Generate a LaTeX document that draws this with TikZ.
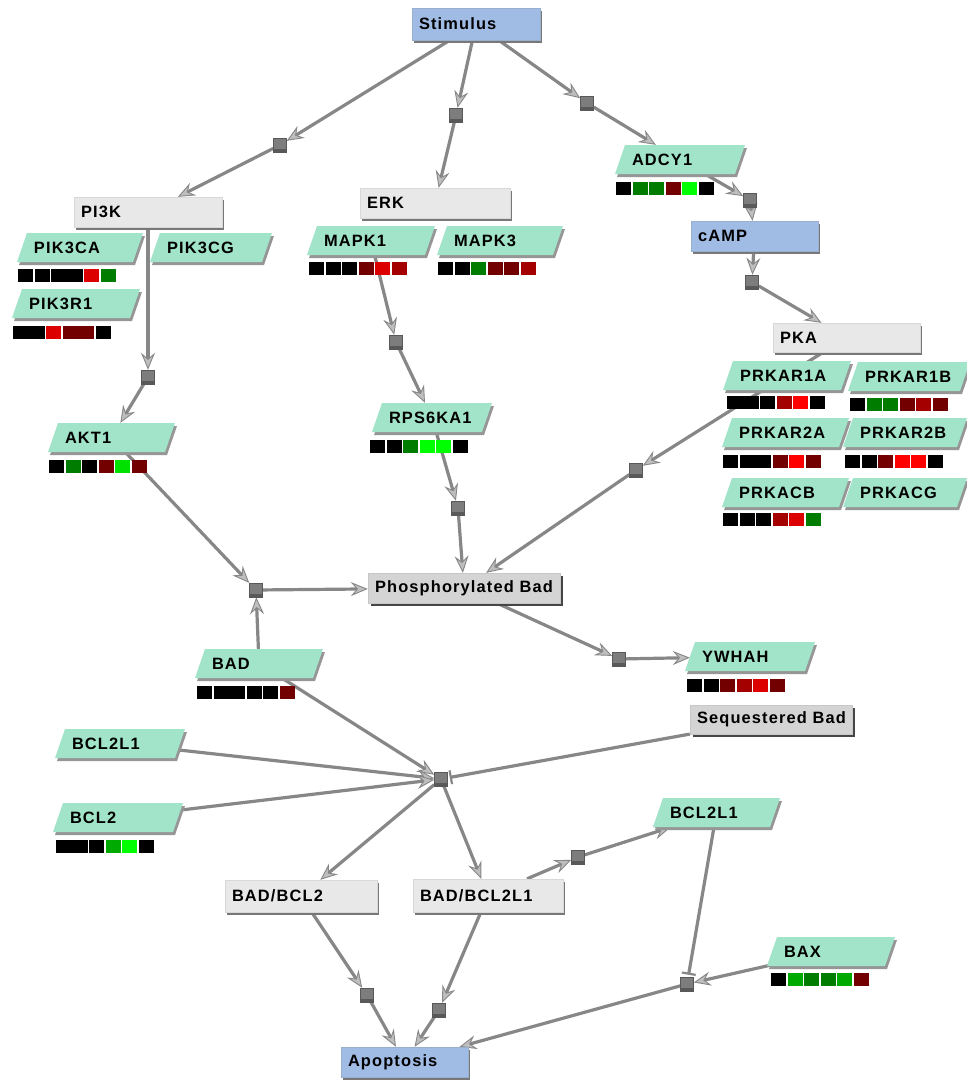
\documentclass[tikz,border=0pt]{standalone}
\usepackage{fontspec}
\setsansfont{Liberation Sans}[LetterSpace=7]
\usetikzlibrary{arrows.meta,shadows}
\definecolor{blueB}{RGB}{160,187,228}
\definecolor{grayB}{RGB}{232,232,232}
\definecolor{grayD}{RGB}{212,212,212}
\definecolor{shB}{RGB}{120,120,120}
\definecolor{shD}{RGB}{70,70,70}
\definecolor{geneG}{RGB}{162,228,202}
\definecolor{geneSh}{RGB}{150,150,150}
\definecolor{lineC}{RGB}{135,135,135}
\definecolor{tipC}{RGB}{190,190,190}
\definecolor{procC}{RGB}{125,125,125}
\definecolor{cK}{RGB}{0,0,0}
\definecolor{cG}{RGB}{0,125,0}
\definecolor{cMG}{RGB}{0,170,0}
\definecolor{cLG}{RGB}{0,225,0}
\definecolor{cBG}{RGB}{0,255,0}
\definecolor{cDR}{RGB}{115,0,0}
\definecolor{cMR}{RGB}{165,0,0}
\definecolor{cR}{RGB}{220,0,0}
\definecolor{cBR}{RGB}{255,0,0}
\pgfdeclarelayer{bg}
\pgfdeclarelayer{edges}
\pgfsetlayers{bg,edges,main}
\tikzset{
  lab/.style={font=\sffamily\bfseries\fontsize{16.4}{18}\selectfont},
  bluebox/.style={lab, fill=blueB, draw=blueB!80!gray, line width=0.4pt, inner xsep=7pt, inner ysep=0pt,
    drop shadow={opacity=1, fill=shB, shadow xshift=2pt, shadow yshift=-3pt}},
  graybox/.style={lab, fill=grayB, draw=grayB!85!gray, line width=0.4pt, inner xsep=7pt, inner ysep=0pt,
    drop shadow={opacity=1, fill=shB, shadow xshift=2pt, shadow yshift=-3pt}},
  darkbox/.style={lab, fill=grayD, draw=grayD!85!gray, line width=0.4pt, inner xsep=7pt, inner ysep=0pt,
    drop shadow={opacity=1, fill=shD, shadow xshift=3pt, shadow yshift=-3pt}},
  genetext/.style={lab, inner xsep=12pt, inner ysep=0pt, minimum height=29pt},
  proc/.style={rectangle, minimum width=13pt, minimum height=14pt, inner sep=0pt, fill=procC, draw=procC!70!black, line width=0.5pt,
    path picture={\fill[black!65] (path picture bounding box.south west) rectangle ([yshift=3.5pt]path picture bounding box.south east);}},
  edge/.style={draw=lineC, line width=3.2pt, -{Stealth[length=17pt,width=14pt,inset=6pt,fill=tipC,line width=0.9pt]}},
  inhib/.style={draw=lineC, line width=3.2pt, -{Bar[width=14pt,line width=2.2pt]}, shorten >=2pt}
}
\newcommand\cbar[3]{\foreach \cc/\ee [count=\ii from 0] in {#3}{\fill[\cc] ({#1+\ii*16.6},#2) rectangle ({#1+\ii*16.6+15+\ee*1.6},{#2+13});}}
\newcommand\rbox[7]{%
  \pgfmathsetmacro\bw{#4-#2}\pgfmathsetmacro\bh{#5-#3}\pgfmathsetmacro\btw{#4-#2-14}%
  \node[#6, minimum width=\bw pt, minimum height=\bh pt] (#1) at ({(#2+#4)/2},{(#3+#5)/2}) {\makebox[\btw pt][l]{#7}};}
\newcommand\gene[5]{%
  \pgfmathsetmacro\gtw{#4-24}%
  \fill[geneSh] ({#2+2},{#3+32}) -- ({#2+12},{#3+3}) -- ({#2+#4+12},{#3+3}) -- ({#2+#4+2},{#3+32}) -- cycle;
  \fill[geneG] (#2,{#3+29}) -- ({#2+10},#3) -- ({#2+#4+10},#3) -- ({#2+#4},{#3+29}) -- cycle;
  \node[genetext, minimum width=#4pt] (#1) at ({#2+5+#4/2},{#3+14.5}) {\makebox[\gtw pt][l]{#5}};}
\begin{document}
\begin{tikzpicture}[x=1pt,y=-1pt]
\begin{pgfonlayer}{bg}
\fill[white] (0,0) rectangle (967,1080);
\end{pgfonlayer}
\useasboundingbox (0,0) rectangle (967,1080);
% boxes
\rbox{Stim}{412}{8}{540}{40}{bluebox}{Stimulus}
\rbox{PI3K}{74}{197}{222}{227}{graybox}{PI3K}
\rbox{ERK}{360}{188}{510}{218}{graybox}{ERK}
\rbox{cAMP}{691}{221}{818}{251}{bluebox}{cAMP}
\rbox{PKA}{773}{323}{920}{352}{graybox}{PKA}
\rbox{PBad}{368}{573}{560}{603}{darkbox}{Phosphorylated Bad}
\rbox{SBad}{690}{705}{852}{734}{darkbox}{Sequestered Bad}
\rbox{BB2}{225}{880}{377}{912}{graybox}{BAD/BCL2}
\rbox{BBL}{413}{879}{563}{912}{graybox}{BAD/BCL2L1}
\rbox{Apop}{341}{1047}{468}{1077}{bluebox}{Apoptosis}
% genes
\gene{PIK3CA}{17}{233}{116}{PIK3CA}
\gene{PIK3CG}{150}{233}{112}{PIK3CG}
\gene{PIK3R1}{12}{289}{118}{PIK3R1}
\gene{MAPK1}{307}{226}{118}{MAPK1}
\gene{MAPK3}{437}{226}{116}{MAPK3}
\gene{ADCY1}{615}{145}{120}{ADCY1}
\gene{PRKAR1A}{723}{361}{118}{PRKAR1A}
\gene{PRKAR1B}{848}{362}{112}{PRKAR1B}
\gene{PRKAR2A}{722}{418}{117}{PRKAR2A}
\gene{PRKAR2B}{843}{418}{114}{PRKAR2B}
\gene{PRKACB}{722}{478}{117}{PRKACB}
\gene{PRKACG}{843}{478}{114}{PRKACG}
\gene{AKT1}{48}{423}{117}{AKT1}
\gene{RPS6KA1}{372}{403}{110}{RPS6KA1}
\gene{BAD}{195}{649}{118}{BAD}
\gene{YWHAH}{685}{642}{120}{YWHAH}
\gene{BCLa}{55}{729}{120}{BCL2L1}
\gene{BCL2}{53}{803}{120}{BCL2}
\gene{BCLb}{653}{798}{117}{BCL2L1}
\gene{BAX}{767}{937}{118}{BAX}
% colour bars
\cbar{18}{269}{cK/0,cK/0,cK/1,cK/0,cR/0,cG/0}
\cbar{13}{326}{cK/1,cK/0,cR/0,cDR/1,cDR/0,cK/0}
\cbar{309}{262}{cK/0,cK/0,cK/0,cDR/0,cR/0,cMR/0}
\cbar{438}{262}{cK/0,cK/0,cG/0,cDR/0,cDR/0,cMR/0}
\cbar{616}{182}{cK/0,cG/0,cG/0,cDR/0,cBG/0,cK/0}
\cbar{727}{396}{cK/1,cK/0,cK/0,cMR/0,cBR/0,cK/0}
\cbar{850}{398}{cK/0,cG/0,cG/0,cDR/0,cMR/0,cDR/0}
\cbar{723}{455}{cK/0,cK/1,cK/0,cDR/0,cBR/0,cDR/0}
\cbar{845}{455}{cK/0,cK/0,cDR/0,cBR/0,cBR/0,cK/0}
\cbar{723}{513}{cK/0,cK/0,cK/0,cMR/0,cR/0,cG/0}
\cbar{49}{460}{cK/0,cG/0,cK/0,cDR/0,cLG/0,cDR/0}
\cbar{370}{440}{cK/0,cK/0,cG/0,cBG/0,cBG/0,cK/0}
\cbar{197}{686}{cK/0,cK/1,cK/0,cK/0,cK/0,cDR/0}
\cbar{687}{679}{cK/0,cK/0,cDR/0,cMR/0,cR/0,cDR/0}
\cbar{56}{840}{cK/1,cK/0,cK/0,cMG/0,cBG/0,cK/0}
\cbar{771}{973}{cK/0,cMG/0,cG/0,cG/0,cMG/0,cDR/0}
% process nodes
\node[proc] (p1) at (280,145) {};
\node[proc] (p2) at (456,115) {};
\node[proc] (p3) at (587,103) {};
\node[proc] (p4) at (750,200) {};
\node[proc] (p5) at (752,282) {};
\node[proc] (p6) at (148,377) {};
\node[proc] (p7) at (396,342) {};
\node[proc] (p8) at (636,470) {};
\node[proc] (p9) at (458,508) {};
\node[proc] (p10) at (256,590) {};
\node[proc] (p11) at (619,659) {};
\node[proc] (p12) at (441,779) {};
\node[proc] (p13) at (578,857) {};
\node[proc] (p14) at (687,984) {};
\node[proc] (p15) at (367,995) {};
\node[proc] (p16) at (439,1010) {};
% connectors
\begin{pgfonlayer}{edges}
\draw[edge] (Stim) -- (p1);
\draw[edge] (p1) -- (PI3K);
\draw[edge] (Stim) -- (p2);
\draw[edge] (p2) -- (ERK);
\draw[edge] (Stim) -- (p3);
\draw[edge] (p3) -- (ADCY1);
\draw[edge] (ADCY1) -- (p4);
\draw[edge] (p4) -- (cAMP);
\draw[edge] (cAMP) -- (p5);
\draw[edge] (p5) -- (PKA);
\draw[edge] (PI3K) -- (p6);
\draw[edge] (p6) -- (AKT1);
\draw[edge] (MAPK1) -- (p7);
\draw[edge] (p7) -- (RPS6KA1);
\draw[edge] (PKA) -- (p8);
\draw[edge] (p8) -- (PBad);
\draw[edge] (RPS6KA1) -- (p9);
\draw[edge] (p9) -- (PBad);
\draw[edge] (AKT1) -- (p10);
\draw[edge] (BAD) -- (p10);
\draw[edge] (p10) -- (PBad);
\draw[edge] (PBad) -- (p11);
\draw[edge] (p11) -- (YWHAH);
\draw[edge] (BAD) -- (p12);
\draw[edge] (BCLa) -- (p12);
\draw[edge] (BCL2) -- (p12);
\draw[inhib] (SBad) -- (p12);
\draw[edge] (p12) -- (BB2);
\draw[edge] (p12) -- (BBL);
\draw[edge] (BBL) -- (p13);
\draw[edge] (p13) -- (BCLb);
\draw[inhib] (BCLb) -- (p14);
\draw[edge] (BAX) -- (p14);
\draw[edge] (p14) -- (Apop);
\draw[edge] (BB2) -- (p15);
\draw[edge] (p15) -- (Apop);
\draw[edge] (BBL) -- (p16);
\draw[edge] (p16) -- (Apop);
\end{pgfonlayer}
\end{tikzpicture}
\end{document}
